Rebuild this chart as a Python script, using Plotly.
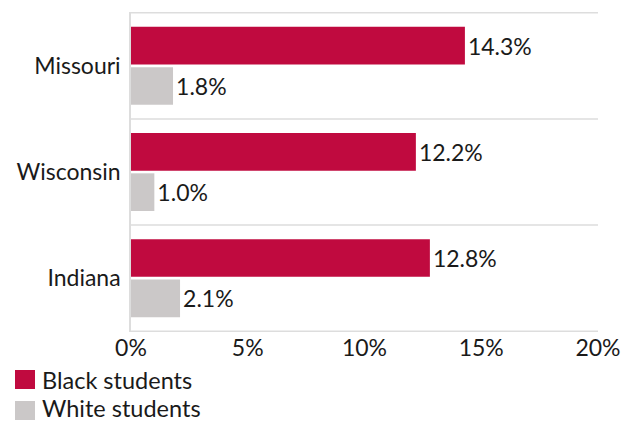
import plotly.graph_objects as go

states = ["Missouri", "Wisconsin", "Indiana"]
black = [14.3, 12.2, 12.8]
white = [1.8, 1.0, 2.1]
series_names = ["Black students", "White students"]
colors = ["#C00A3F", "#CBC8C8"]
x_ticks = [0, 5, 10, 15, 20]

FONT = "Lato"
FS = 23
W, H = 624, 423
ML, MR, MT, MB = 131, 26, 12, 91
PW, PH = W - ML - MR, H - MT - MB

def px(x):
    return (x - ML) / PW

def py(y):
    return (H - MB - y) / PH

fig = go.Figure()
for name, vals, col in zip(series_names, [black, white], colors):
    fig.add_trace(go.Bar(
        y=states, x=vals, orientation="h", name=name,
        marker=dict(color=col, line=dict(width=0)),
        text=[f"{v:.1f}%" for v in vals], textposition="outside",
        textfont=dict(size=FS, color="#1a1a1a", family=FONT),
        cliponaxis=False, showlegend=False,
    ))

for b in [-0.5, 0.5, 1.5, 2.5]:
    fig.add_shape(type="line", xref="paper", x0=0, x1=1, yref="y", y0=b, y1=b,
                  line=dict(color="#dddddd", width=1.5), layer="below")

# manual legend
leg_tops = [370, 401]
text_centers = [380, 408]
for name, col, top, tc in zip(series_names, colors, leg_tops, text_centers):
    fig.add_shape(type="rect", xref="paper", yref="paper",
                  x0=px(15), x1=px(35), y0=py(top), y1=py(top + 19),
                  fillcolor=col, line=dict(width=0))
    fig.add_annotation(xref="paper", yref="paper", x=px(41), y=py(tc),
                       xanchor="left", yanchor="middle", text=name, showarrow=False,
                       borderpad=0,
                       font=dict(size=23.5, family=FONT, color="#1a1a1a"))

fig.update_layout(
    width=W, height=H,
    margin=dict(l=ML, r=MR, t=MT, b=MB, autoexpand=False),
    paper_bgcolor="white", plot_bgcolor="white",
    barmode="group", bargap=0.24, bargroupgap=0.066,
    font=dict(family=FONT, size=FS, color="#1a1a1a"),
    showlegend=False,
    xaxis=dict(range=[0, 20], tickvals=x_ticks, ticktext=[f"{t}%" for t in x_ticks],
               showgrid=False, zeroline=False, showline=False,
               tickfont=dict(size=FS), ticks="", automargin=False),
    yaxis=dict(categoryorder="array", categoryarray=states, autorange="reversed",
               showgrid=False, showline=True, linecolor="#dddddd", linewidth=1.5,
               ticks="", tickfont=dict(size=FS), ticklabelstandoff=4, automargin=False),
)

fig.write_html("out.html")
